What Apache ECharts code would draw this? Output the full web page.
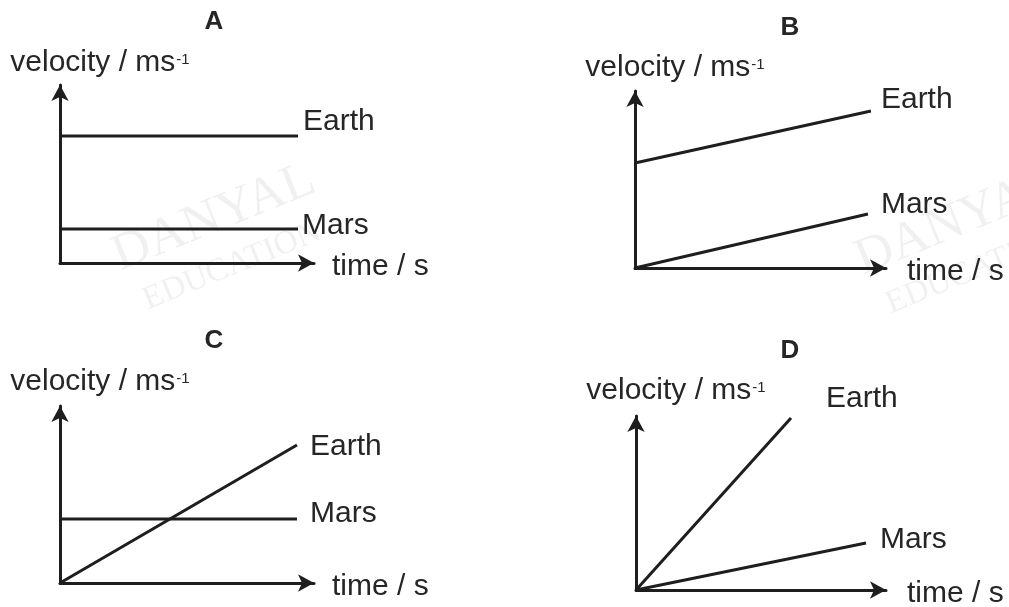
<!DOCTYPE html>
<html>
<head>
<meta charset="utf-8">
<title>velocity-time graphs</title>
<script src="https://cdn.jsdelivr.net/npm/echarts@6/dist/echarts.min.js"></script>
<style>
  html, body { margin: 0; padding: 0; background: #fff; }
  #main { width: 1009px; height: 607px; }
</style>
</head>
<body>
<div id="main"></div>
<script>
// four panels A-D, axes run 0..10 in arbitrary units (no scale in the source)
const panels = ['A', 'B', 'C', 'D'];
const xAxisName = 'time / s';
// [start, end] of each line, one pair per panel
const earthTime = [[0, 9.37], [0, 9.4], [0, 9.33], [0, 6.2]];
const earthVelocity = [[7.13, 7.13], [5.93, 8.87], [0, 7.8], [0, 9.89]];
const marsTime = [[0, 9.37], [0, 9.28], [0, 9.33], [0, 9.2]];
const marsVelocity = [[1.91, 1.91], [0, 3.05], [3.62, 3.62], [0, 2.7]];

const ink = '#1e1e1e';
const textColor = '#262626';
const font = '"Liberation Sans", Arial, sans-serif';

// layout of each panel (pixels)
const grids = [
  { left: 60, top: 85, width: 254, height: 178, outerBoundsMode: 'none' },
  { left: 635, top: 91, width: 251, height: 177, outerBoundsMode: 'none' },
  { left: 60, top: 406, width: 254, height: 177, outerBoundsMode: 'none' },
  { left: 636, top: 416, width: 250, height: 174, outerBoundsMode: 'none' },
];
const titlePos = [[214, 22], [790, 28], [214, 341], [790, 351]];
const xNameGap = [18, 21, 18, 21];
const yNameGap = [22, 23, 24, 25];
const earthLabelOffset = [[5, -14], [10, -11], [13, 2], [35, -19]];
const marsLabelOffset = [[4, -3], [13, -9], [13, -5], [14, -3]];

const chart = echarts.init(document.getElementById('main'));

const axisLine = {
  show: true,
  symbol: ['none', 'arrow'],
  symbolSize: [13, 16],
  lineStyle: { color: ink, width: 3 },
};

const xAxis = panels.map((p, i) => ({
  gridIndex: i,
  type: 'value',
  min: 0,
  max: 10,
  name: '{t|' + xAxisName + '}',
  nameLocation: 'end',
  nameGap: xNameGap[i],
  nameTextStyle: {
    align: 'left', verticalAlign: 'middle',
    rich: {
      t: { color: textColor, fontFamily: font, fontSize: 30, lineHeight: 30, padding: [8, 0, 0, 0] },
    },
  },
  axisLine: axisLine,
  axisTick: { show: false },
  axisLabel: { show: false },
  splitLine: { show: false },
}));

const yAxis = panels.map((p, i) => ({
  gridIndex: i,
  type: 'value',
  min: 0,
  max: 10,
  name: '{t|velocity / ms}{s|-1}',
  nameLocation: 'end',
  nameGap: yNameGap[i],
  nameTextStyle: {
    align: 'center', verticalAlign: 'middle', padding: [0, 0, 0, 80],
    rich: {
      t: { color: textColor, fontFamily: font, fontSize: 30, lineHeight: 30 },
      s: { color: textColor, fontFamily: font, fontSize: 15, padding: [0, 0, 7, 1] },
    },
  },
  axisLine: axisLine,
  axisTick: { show: false },
  axisLabel: { show: false },
  splitLine: { show: false },
}));

function lineSeries(name, i, times, vels, offset) {
  return {
    type: 'line',
    name: name,
    xAxisIndex: i,
    yAxisIndex: i,
    data: times[i].map((t, k) => [t, vels[i][k]]),
    showSymbol: true,
    symbolSize: 0,
    lineStyle: { color: ink, width: 3 },
    itemStyle: { color: ink },
    label: {
      show: true,
      position: 'right',
      distance: 0,
      offset: offset[i],
      color: textColor,
      fontFamily: font,
      fontSize: 30,
      formatter: (params) => (params.dataIndex === 1 ? params.seriesName : ''),
    },
    animation: false,
    silent: true,
  };
}

const series = [];
panels.forEach((p, i) => {
  series.push(lineSeries('Earth', i, earthTime, earthVelocity, earthLabelOffset));
  series.push(lineSeries('Mars', i, marsTime, marsVelocity, marsLabelOffset));
});

const titles = panels.map((p, i) => ({
  type: 'text',
  x: titlePos[i][0],
  y: titlePos[i][1],
  style: {
    text: p,
    fill: textColor,
    font: 'bold 26px ' + font,
    align: 'center',
    verticalAlign: 'middle',
  },
}));

// faint scan watermark
const wm = (text, x, y, size) => ({
  type: 'text',
  x: x,
  y: y,
  rotation: 22 * Math.PI / 180,
  silent: true,
  z: -1,
  style: {
    text: text,
    fill: 'rgba(0,0,0,0.06)',
    font: size + 'px "Liberation Serif", "DejaVu Serif", serif',
    align: 'center',
    verticalAlign: 'middle',
  },
});

chart.setOption({
  animation: false,
  backgroundColor: '#fff',
  grid: grids,
  xAxis: xAxis,
  yAxis: yAxis,
  series: series,
  graphic: [
    wm('DANYAL', 214, 218, 52),
    wm('EDUCATION', 232, 266, 33),
    wm('DANYAL', 957, 222, 52),
    wm('EDUCATION', 975, 270, 33),
  ].concat(titles),
});
</script>
</body>
</html>
